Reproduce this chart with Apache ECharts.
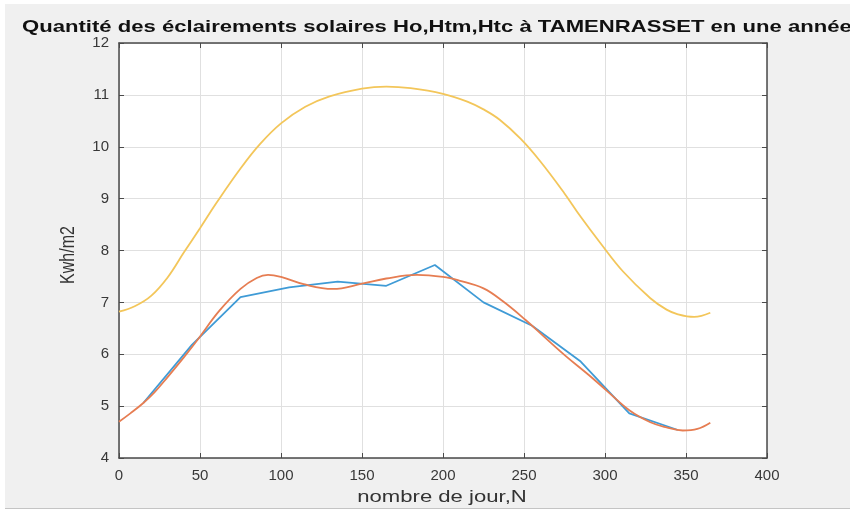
<!DOCTYPE html>
<html>
<head>
<meta charset="utf-8">
<script src="https://cdn.jsdelivr.net/npm/echarts@6/dist/echarts.min.js"></script>
<style>
  html, body { margin: 0; padding: 0; background: #ffffff; }
  #frame { position: absolute; left: 5px; top: 4px; width: 845px; height: 504px;
           background: #f0f0f0; border-bottom: 1px solid #c4c4c4; }
  #chart { position: absolute; left: 0; top: 0; width: 850px; height: 515px; }
</style>
</head>
<body>
<div id="frame"></div>
<div id="chart"></div>
<script>
// Day of year (N) and daily irradiation, kWh/m2
const hoDays  = [0, 10, 20, 30, 40, 50, 60, 75, 87, 100, 115, 130, 150, 165, 180, 200, 215, 225, 235, 248, 260, 275, 285, 297, 311, 328, 338, 345, 355, 365];
const hoVals  = [6.82, 6.93, 7.13, 7.48, 7.96, 8.43, 8.91, 9.58, 10.05, 10.45, 10.77, 10.97, 11.12, 11.16, 11.13, 11.02, 10.87, 10.72, 10.52, 10.15, 9.72, 9.10, 8.65, 8.15, 7.60, 7.08, 6.86, 6.77, 6.72, 6.80];

const htcDays = [0, 7, 15, 22, 30, 40, 49, 62, 75, 85, 92, 100, 114, 132, 150, 165, 184, 200, 210, 225, 237, 251, 262, 276, 290, 301, 315, 328, 338, 348, 357, 365];
const htcVals = [4.70, 4.86, 5.06, 5.27, 5.56, 5.94, 6.30, 6.84, 7.26, 7.47, 7.53, 7.49, 7.35, 7.26, 7.36, 7.46, 7.53, 7.49, 7.42, 7.27, 7.02, 6.66, 6.35, 5.96, 5.60, 5.30, 4.92, 4.69, 4.59, 4.53, 4.56, 4.68];

const htmDays = [15, 45, 75, 105, 135, 165, 195, 225, 255, 285, 315, 345];
const htmVals = [5.06, 6.18, 7.10, 7.29, 7.40, 7.32, 7.72, 7.00, 6.55, 5.86, 4.86, 4.54];

const xTicks = [0, 50, 100, 150, 200, 250, 300, 350, 400];
const yTicks = [4, 5, 6, 7, 8, 9, 10, 11, 12];

const titleText = 'Quantité des éclairements solaires Ho,Htm,Htc à TAMENRASSET en une année';
const xName = 'nombre de jour,N';
const yName = 'Kwh/m2';

const pairs = (xs, ys) => xs.map((x, i) => [x, ys[i]]);

const FONT = '"Liberation Sans", Arial, sans-serif';
const axisColor = '#4a4a4a';
const gridColor = '#e0e0e0';

const chart = echarts.init(document.getElementById('chart'), null, { renderer: 'canvas' });

function baseAxis(ticks, extra) {
  return Object.assign({
    type: 'value',
    min: ticks[0],
    max: ticks[ticks.length - 1],
    interval: ticks[1] - ticks[0],
    axisLine: { show: true, onZero: false, lineStyle: { color: axisColor, width: 1.5 } },
    axisTick: { show: true, inside: true, length: 5, lineStyle: { color: axisColor, width: 1 } },
    splitLine: { show: false },
    axisLabel: { show: false }
  }, extra);
}

const curve = (name, xs, ys, color, smooth) => ({
  name, type: 'line', xAxisIndex: 0, yAxisIndex: 0,
  data: pairs(xs, ys), showSymbol: false, smooth,
  lineStyle: { color, width: 1.8 }
});

const option = {
  backgroundColor: 'transparent',
  animation: false,
  grid: {
    left: 119, right: 83, top: 43, bottom: 57,
    show: true, backgroundColor: '#ffffff', borderWidth: 0
  },
  xAxis: [
    baseAxis(xTicks, {
      position: 'bottom',
      splitLine: { show: true, lineStyle: { color: gridColor, width: 1 } },
      axisLabel: { show: true, fontSize: 15, color: '#383838', fontFamily: FONT, margin: 10 }
    }),
    baseAxis(xTicks, { position: 'top' })
  ],
  yAxis: [
    baseAxis(yTicks, {
      position: 'left',
      splitLine: { show: true, lineStyle: { color: gridColor, width: 1 } },
      axisLabel: { show: true, fontSize: 15, color: '#383838', fontFamily: FONT, margin: 10 }
    }),
    baseAxis(yTicks, { position: 'right' })
  ],
  series: [
    curve('Htm', htmDays, htmVals, '#3f9bd6', false),
    curve('Htc', htcDays, htcVals, '#e67d52', 0.4),
    curve('Ho', hoDays, hoVals, '#f3c65a', 0.4)
  ],
  graphic: [
    {
      type: 'text', x: 22, y: 27, scaleX: 1.3, z: 10,
      style: { text: titleText, font: 'bold 17px ' + FONT, fill: '#111', align: 'left', verticalAlign: 'middle' }
    },
    {
      type: 'text', x: 442, y: 497, scaleX: 1.3, z: 10,
      style: { text: xName, font: '17px ' + FONT, fill: '#333', align: 'center', verticalAlign: 'middle' }
    },
    {
      type: 'text', x: 68, y: 255, rotation: Math.PI / 2, scaleY: 1.3, z: 10,
      style: { text: yName, font: '16px ' + FONT, fill: '#333', align: 'center', verticalAlign: 'middle' }
    }
  ]
};

chart.setOption(option);
</script>
</body>
</html>
